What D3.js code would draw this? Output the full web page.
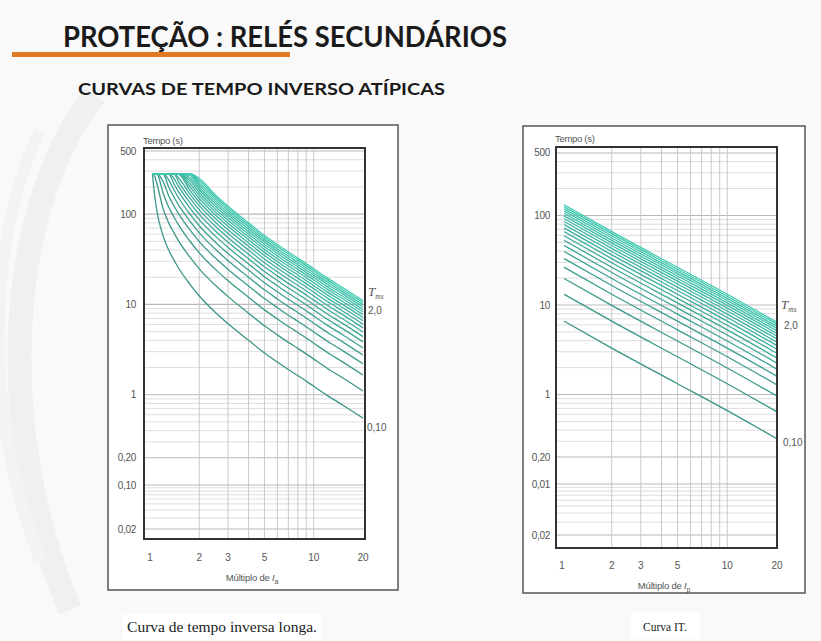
<!DOCTYPE html>
<html>
<head>
<meta charset="utf-8">
<script src="https://cdn.jsdelivr.net/npm/d3@7"></script>
<style>
  html, body { margin: 0; padding: 0; background: #f9f9f9; }
  svg { display: block; }
</style>
</head>
<body>
<svg id="chart" width="821" height="641"></svg>
<script>
// ---- Data ----------------------------------------------------------------
// Multiples of the pickup current sampled along the long inverse curves
const multiplesLonga = [1.035, 1.05, 1.1, 1.2, 1.3, 1.4, 1.5, 1.75, 2, 2.5, 3, 4, 5, 6, 7, 8, 10, 12, 15, 20];
// Operating time (s) of the lowest setting (T_ms = 0,10) on the long inverse curve
const timesLonga = [280, 210, 110, 58, 40, 31, 25, 16.8, 12.4, 8.2, 6.1, 4.0, 2.9, 2.3, 1.9, 1.63, 1.24, 0.99, 0.77, 0.55];
// Upper time limit of the long inverse family (s)
const capLonga = 280;

// Multiples and operating times (s) of the lowest setting on the IT curve
const multiplesIT = [1.03, 2, 5, 10, 20];
const timesIT = [6.6, 3.3, 1.32, 0.66, 0.32];

// Time multiplier settings drawn in both families
const tmsSettings = [0.1, 0.2, 0.3, 0.4, 0.5, 0.6, 0.7, 0.8, 0.9, 1.0,
                     1.1, 1.2, 1.3, 1.4, 1.5, 1.6, 1.7, 1.8, 1.9, 2.0];

// Axis ticks
const xTicks = [1, 2, 3, 5, 10, 20];
const xTickLabels = ["1", "2", "3", "5", "10", "20"];
const xGrid = [2, 3, 4, 5, 6, 7, 8, 9, 10];
const yTicks = [500, 100, 10, 1, 0.2, 0.1, 0.02];
const yTickLabelsLonga = ["500", "100", "10", "1", "0,20", "0,10", "0,02"];
const yTickLabelsIT = ["500", "100", "10", "1", "0,20", "0,01", "0,02"];

// ---- Page ------------------------------------------------------------------
const svg = d3.select("#chart");

// faint decorative swoosh on the left of the slide
const deco = svg.append("g").attr("fill", "none");
deco.append("path").attr("d", "M 95 95 C 10 200, -10 420, 70 610")
  .attr("stroke", "#f0f0f0").attr("stroke-width", 24);
deco.append("path").attr("d", "M 40 130 C -20 260, -10 430, 40 560")
  .attr("stroke", "#f3f3f3").attr("stroke-width", 12);

svg.append("text")
  .attr("x", 63).attr("y", 47)
  .attr("font-family", "Lato, 'Open Sans', sans-serif")
  .attr("font-weight", 700).attr("font-size", 29)
  .attr("fill", "#1a1a1a")
  .attr("textLength", 444).attr("lengthAdjust", "spacingAndGlyphs")
  .text("PROTEÇÃO : RELÉS SECUNDÁRIOS");

svg.append("rect")
  .attr("x", 12).attr("y", 52).attr("width", 278).attr("height", 5)
  .attr("fill", "#e27a24");

svg.append("text")
  .attr("x", 78).attr("y", 95)
  .attr("font-family", "Lato, 'Open Sans', sans-serif")
  .attr("font-weight", 700).attr("font-size", 17)
  .attr("fill", "#1a1a1a")
  .attr("textLength", 367).attr("lengthAdjust", "spacingAndGlyphs")
  .text("CURVAS DE TEMPO INVERSO ATÍPICAS");

// ---- Panels ------------------------------------------------------------------
const panels = [
  {
    id: "longa",
    box: { x: 108, y: 125, w: 290, h: 465 },
    plot: { x0: 144, x1: 365, y0: 148, y1: 539 },
    xRange: [150, 363],
    yDomain: [0.0139, 0.1, 540], yRange: [539, 485, 148],
    yLabelX: 136, xLabelY: 561,
    yLabels: yTickLabelsLonga,
    title: { x: 143, y: 144 },
    xTitle: { x: 252, y: 581, sub: "a" },
    tms: { x: 368, y: 296, top: [368, 314], bottom: [367, 431] },
    caption: { x: 222, y: 632, size: 15.5, text: "Curva de tempo inversa longa.", w: 178 },
    multiples: multiplesLonga, times: timesLonga, cap: capLonga
  },
  {
    id: "it",
    box: { x: 523, y: 126, w: 282, h: 467 },
    plot: { x0: 556, x1: 777, y0: 147, y1: 548 },
    xRange: [562, 777],
    yDomain: [0.0133, 0.1, 583], yRange: [548, 484, 147],
    yLabelX: 550, xLabelY: 569,
    yLabels: yTickLabelsIT,
    title: { x: 555, y: 142 },
    xTitle: { x: 664, y: 589, sub: "p" },
    tms: { x: 781, y: 309, top: [784, 329], bottom: [783, 446] },
    caption: { x: 665, y: 631, size: 11.5, text: "Curva IT.", w: 49 },
    multiples: multiplesIT, times: timesIT, cap: Infinity
  }
];

const lineColor = d3.interpolateRgb("#3b9487", "#3fcab2");

panels.forEach(p => {
  const g = svg.append("g").attr("class", "panel-" + p.id);

  // outer frame
  g.append("rect")
    .attr("x", p.box.x).attr("y", p.box.y)
    .attr("width", p.box.w).attr("height", p.box.h)
    .attr("fill", "#ffffff").attr("stroke", "#555").attr("stroke-width", 1.5);

  const x = d3.scaleLog().domain([1, 20]).range(p.xRange);
  const y = d3.scaleLog().domain(p.yDomain).range(p.yRange);

  const clipId = "clip-" + p.id;
  g.append("clipPath").attr("id", clipId)
    .append("rect")
    .attr("x", p.plot.x0).attr("y", p.plot.y0)
    .attr("width", p.plot.x1 - p.plot.x0).attr("height", p.plot.y1 - p.plot.y0);

  // horizontal grid: 1..9 in every decade
  const hGrid = [];
  [0.01, 0.1, 1, 10, 100].forEach(d => {
    for (let k = 1; k <= 9; k++) {
      const v = +(k * d).toPrecision(3);
      if (v > p.yDomain[0] && v <= 500) hGrid.push(v);
    }
  });
  const grid = g.append("g").attr("clip-path", `url(#${clipId})`);
  grid.selectAll("line.h").data(hGrid).join("line")
    .attr("class", "h")
    .attr("x1", p.plot.x0).attr("x2", p.plot.x1)
    .attr("y1", d => y(d)).attr("y2", d => y(d))
    .attr("stroke", d => (yTicks.includes(d) ? "#b9b9b9" : "#d4d4d4"))
    .attr("stroke-width", d => (yTicks.includes(d) ? 1.1 : 0.8));
  grid.selectAll("line.v").data(xGrid).join("line")
    .attr("class", "v")
    .attr("x1", d => x(d)).attr("x2", d => x(d))
    .attr("y1", p.plot.y0).attr("y2", p.plot.y1)
    .attr("stroke", "#c4c4c4").attr("stroke-width", 0.9);

  // curve family
  const line = d3.line()
    .x(d => x(d[0]))
    .y(d => y(d[1]))
    .curve(d3.curveMonotoneX);
  const base = tmsSettings[0];
  const curves = tmsSettings.map(tms =>
    p.multiples.map((m, i) => [m, Math.min(p.cap, p.times[i] * tms / base)]));
  g.append("g").attr("clip-path", `url(#${clipId})`)
    .selectAll("path").data(curves).join("path")
    .attr("d", line)
    .attr("fill", "none")
    .attr("stroke", (d, i) => lineColor(i / (curves.length - 1)))
    .attr("stroke-width", 1.3);

  // plot frame
  g.append("rect")
    .attr("x", p.plot.x0).attr("y", p.plot.y0)
    .attr("width", p.plot.x1 - p.plot.x0).attr("height", p.plot.y1 - p.plot.y0)
    .attr("fill", "none").attr("stroke", "#333").attr("stroke-width", 2);

  const tickFont = "'Liberation Sans', Arial, sans-serif";

  // y tick labels
  g.append("g").selectAll("text").data(yTicks).join("text")
    .attr("x", p.yLabelX).attr("y", d => y(d))
    .attr("dy", "0.35em").attr("text-anchor", "end")
    .attr("font-family", tickFont).attr("font-size", 10).attr("fill", "#555")
    .attr("letter-spacing", -0.3)
    .text((d, i) => p.yLabels[i]);

  // x tick labels
  g.append("g").selectAll("text").data(xTicks).join("text")
    .attr("x", d => x(d)).attr("y", p.xLabelY)
    .attr("text-anchor", "middle")
    .attr("font-family", tickFont).attr("font-size", 10).attr("fill", "#555")
    .text((d, i) => xTickLabels[i]);

  // axis titles
  g.append("text")
    .attr("x", p.title.x).attr("y", p.title.y)
    .attr("font-family", tickFont).attr("font-size", 9.5).attr("fill", "#555")
    .attr("letter-spacing", -0.3)
    .text("Tempo (s)");

  const xt = g.append("text")
    .attr("x", p.xTitle.x).attr("y", p.xTitle.y)
    .attr("text-anchor", "middle")
    .attr("font-family", tickFont).attr("font-size", 9.5).attr("fill", "#555")
    .attr("letter-spacing", -0.2);
  xt.append("tspan").text("Múltiplo de ");
  xt.append("tspan").attr("font-style", "italic").text("I");
  xt.append("tspan").attr("font-size", 7).attr("dy", 2.5).text(p.xTitle.sub);

  // T_ms marker with the end settings
  const tl = g.append("text")
    .attr("x", p.tms.x).attr("y", p.tms.y)
    .attr("font-family", "'Liberation Serif', serif").attr("font-style", "italic")
    .attr("font-size", 13).attr("fill", "#555");
  tl.append("tspan").text("T");
  tl.append("tspan").attr("font-size", 7.5).attr("dy", 2.5).text("ms");

  g.append("text")
    .attr("x", p.tms.top[0]).attr("y", p.tms.top[1])
    .attr("font-family", tickFont).attr("font-size", 10).attr("fill", "#555")
    .text("2,0");
  g.append("text")
    .attr("x", p.tms.bottom[0]).attr("y", p.tms.bottom[1])
    .attr("font-family", tickFont).attr("font-size", 10).attr("fill", "#555")
    .text(tmsSettings[0].toFixed(2).replace(".", ","));

  // caption
  g.append("rect")
    .attr("x", p.caption.x - p.caption.w / 2 - 10).attr("y", p.caption.y - 18)
    .attr("width", p.caption.w + 20).attr("height", 26)
    .attr("fill", "#ffffff");
  g.append("text")
    .attr("x", p.caption.x).attr("y", p.caption.y)
    .attr("text-anchor", "middle")
    .attr("font-family", "'Liberation Serif', 'Times New Roman', serif")
    .attr("font-size", p.caption.size).attr("fill", "#222")
    .text(p.caption.text);
});
</script>
</body>
</html>
